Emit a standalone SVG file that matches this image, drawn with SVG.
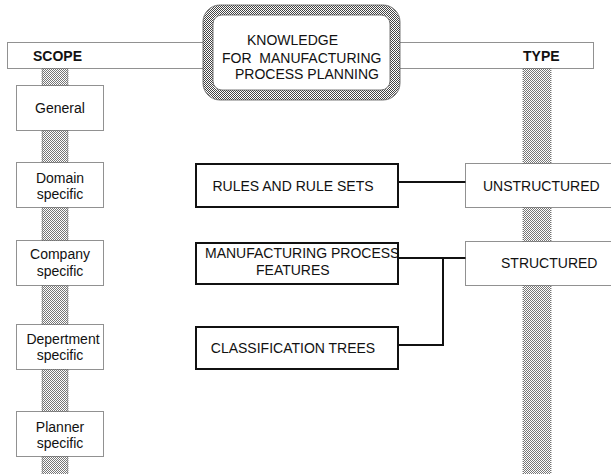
<svg xmlns="http://www.w3.org/2000/svg" width="611" height="474" viewBox="0 0 611 474">
<defs>
<pattern id="stip" width="2" height="2" patternUnits="userSpaceOnUse">
<rect width="2" height="2" fill="#ffffff"/>
<rect x="0" y="0" width="1" height="1" fill="#777"/>
<rect x="1" y="1" width="1" height="1" fill="#777"/>
</pattern>
<pattern id="stip2" width="2" height="2" patternUnits="userSpaceOnUse">
<rect width="2" height="2" fill="#ffffff"/>
<rect x="0" y="0" width="1" height="1" fill="#444"/>
<rect x="1" y="1" width="1" height="1" fill="#444"/>
</pattern>
</defs>
<style>
text{font-family:"Liberation Sans",Arial,sans-serif;font-size:14px;fill:#111;}
.c{text-anchor:middle;}
.b{font-weight:bold;}
.bar{fill:url(#stip);stroke:#666;stroke-width:0.8;stroke-dasharray:1 1;}
.dot{fill:#fff;stroke:#222;stroke-width:1;stroke-dasharray:1 1;}
.solid{fill:#fff;stroke:#111;stroke-width:2;}
.con{fill:none;stroke:#111;stroke-width:2;}
</style>
<g id="spines">
<rect class="bar" x="42" y="68" width="26" height="410"/>
<rect class="bar" x="523" y="68" width="28" height="410"/>
</g>
<g id="scope-bar">
<rect class="dot" x="7.5" y="42.5" width="300" height="26"/>
<text class="b" x="33" y="61">SCOPE</text>
</g>
<g id="type-bar">
<rect class="dot" x="300.5" y="42.5" width="293" height="26"/>
<text class="b" x="523" y="61">TYPE</text>
</g>
<g id="knowledge">
<rect x="208" y="10" width="187" height="85" rx="13" fill="#fff" stroke="url(#stip2)" stroke-width="10"/>
<rect x="203" y="5" width="197" height="95" rx="17" fill="none" stroke="#555" stroke-width="0.8"/>
<rect x="213" y="15" width="177" height="75" rx="9" fill="none" stroke="#555" stroke-width="0.8"/>
<text x="247" y="45">KNOWLEDGE</text>
<text x="222" y="63" xml:space="preserve">FOR  MANUFACTURING</text>
<text x="235" y="79">PROCESS PLANNING</text>
</g>
<g id="general">
<rect class="dot" x="16.5" y="85.5" width="87" height="45"/>
<text class="c" x="60" y="113">General</text>
</g>
<g id="domain">
<rect class="dot" x="16.5" y="162.5" width="87" height="45"/>
<text class="c" x="60" y="183">Domain</text>
<text class="c" x="60" y="199">specific</text>
</g>
<g id="company">
<rect class="dot" x="16.5" y="240.5" width="87" height="45"/>
<text class="c" x="60" y="259">Company</text>
<text class="c" x="60" y="276">specific</text>
</g>
<g id="department">
<rect class="dot" x="16.5" y="324.5" width="87" height="45"/>
<text class="c" x="63" y="344">Depertment</text>
<text class="c" x="60" y="360">specific</text>
</g>
<g id="planner">
<rect class="dot" x="16.5" y="411.5" width="87" height="45"/>
<text class="c" x="60" y="432">Planner</text>
<text class="c" x="60" y="448">specific</text>
</g>
<g id="connectors">
<path class="con" d="M398 182 H466"/>
<path class="con" d="M398 258 H466"/>
<path class="con" d="M443 258 V345 H398"/>
</g>
<g id="rules">
<rect class="solid" x="196" y="164" width="202" height="43"/>
<text class="c" x="293" y="191">RULES AND RULE SETS</text>
</g>
<g id="features">
<rect class="solid" x="196" y="243" width="202" height="41"/>
<text x="205" y="258">MANUFACTURING PROCESS</text>
<text x="256" y="275">FEATURES</text>
</g>
<g id="classification">
<rect class="solid" x="196" y="327" width="202" height="42"/>
<text class="c" x="293" y="353">CLASSIFICATION TREES</text>
</g>
<g id="unstructured">
<rect class="dot" x="465.5" y="163.5" width="150" height="44"/>
<text x="483" y="191">UNSTRUCTURED</text>
</g>
<g id="structured">
<rect class="dot" x="465.5" y="241.5" width="150" height="44"/>
<text x="501" y="268">STRUCTURED</text>
</g>
</svg>
